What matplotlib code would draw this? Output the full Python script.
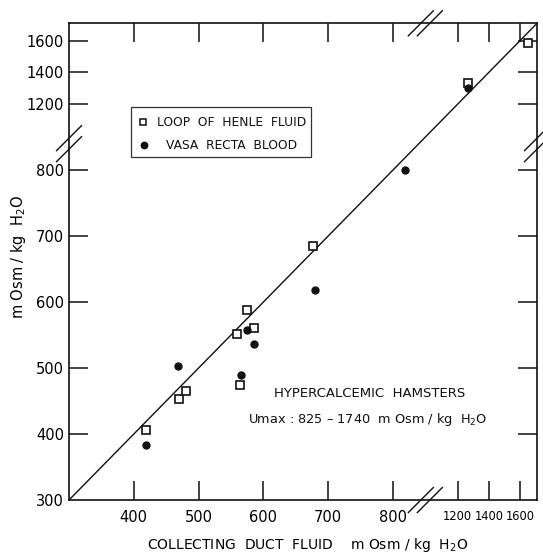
# Collecting duct vs loop of Henle / vasa recta osmolality, hypercalcemic hamsters.
# Both axes are broken (300-850 linear, then a compressed 1200-1700 section).
import numpy as np
import matplotlib
matplotlib.use("Agg")
import matplotlib.pyplot as plt
from matplotlib.patches import Rectangle

# values, mOsm / kg H2O
henle_cd = [419, 469, 481, 559, 564, 574, 585, 677, 1266, 1650]
henle_y = [406, 453, 465, 551, 474, 588, 560, 685, 1335, 1585]
vasa_cd = [419, 468, 565, 574, 585, 679, 818, 1266]
vasa_y = [384, 503, 489, 557, 537, 618, 800, 1300]

x_ticks = [400, 500, 600, 700, 800, 1200, 1400, 1600]
y_ticks = [300, 400, 500, 600, 700, 800, 1200, 1400, 1600]
identity = [300, 850, 1200, 1710]   # line of identity, kinks at the break
LO, HI = 300, 1710

# piecewise axis: linear to 850, squeeze 850-1200, then quarter scale above 1200
K1, K2, V2, S = 850.0, 1200.0, 900.0, 0.24


def fwd(v):
    v = np.asarray(v, float)
    return np.where(v <= K1, v,
                    np.where(v <= K2, K1 + (v - K1) * (V2 - K1) / (K2 - K1),
                             V2 + (v - K2) * S))


def inv(u):
    u = np.asarray(u, float)
    return np.where(u <= K1, u,
                    np.where(u <= V2, K1 + (u - K1) * (K2 - K1) / (V2 - K1),
                             K2 + (u - V2) / S))


INK = "#111111"
plt.rcParams["font.family"] = ["DejaVu Sans"]

fig = plt.figure(figsize=(5.43, 5.57), dpi=100)
ax = fig.add_axes([0.1271, 0.1023, 0.8619, 0.8559])
ax.set_xscale("function", functions=(fwd, inv))
ax.set_yscale("function", functions=(fwd, inv))
ax.set_xlim(LO, HI)
ax.set_ylim(LO, HI)

ax.plot(identity, identity, color=INK, lw=1.0)
ax.plot(henle_cd, henle_y, ls="none", marker="s", ms=5.2, mfc="white",
        mec=INK, mew=1.2)
ax.plot(vasa_cd, vasa_y, ls="none", marker="o", ms=5.0, color=INK)

for sp in ax.spines.values():
    sp.set_linewidth(1.2)
    sp.set_color(INK)

ax.set_xticks(x_ticks)
ax.set_xticklabels([str(t) for t in x_ticks])
ax.set_yticks(y_ticks)
ax.set_yticklabels([str(t) for t in y_ticks])
ax.minorticks_off()
ax.tick_params(axis="both", direction="in", length=13.5, width=1.1,
               color=INK, labelsize=10.5, top=True, right=True)
ax.tick_params(axis="x", pad=7)
ax.tick_params(axis="y", pad=3.5)
for lab, t in zip(ax.get_xticklabels(), x_ticks):
    if t >= 1200:
        lab.set_fontsize(8.3)
ax.yaxis.get_major_ticks()[0].tick1line.set_visible(False)
ax.yaxis.get_major_ticks()[0].tick2line.set_visible(False)

ax.set_xlabel("COLLECTING  DUCT  FLUID    m Osm / kg  H$_2$O", fontsize=10)
ax.xaxis.label.set_va("center")
ax.xaxis.set_label_coords(0.51, -0.094)
ax.set_ylabel("m Osm / kg  H$_2$O", fontsize=10.5)
ax.yaxis.label.set_va("center")
ax.yaxis.set_label_coords(-0.109, 0.51)

# break marks "//" on all four spines
W = fig.get_figwidth() * fig.dpi * 0.8619
H = fig.get_figheight() * fig.dpi * 0.8559
xb = (fwd(850) - fwd(LO)) / (fwd(HI) - fwd(LO))
yb = (fwd(840) - fwd(LO)) / (fwd(HI) - fwd(LO))
a = 12.5   # half length in px
for cx, cy, ox, oy in [(xb, 1.0, 4.5, 0), (xb, 0.0, 4.5, 0),
                       (0.0, yb, 0, 5.5), (1.0, yb, 0, 5.5)]:
    for s in (-1, 1):
        x0 = cx + (s * ox - a) / W
        x1 = cx + (s * ox + a) / W
        y0 = cy + (s * oy - a) / H
        y1 = cy + (s * oy + a) / H
        ax.plot([x0, x1], [y0, y1], transform=ax.transAxes, color=INK,
                lw=1.0, clip_on=False)

# key box
ax.add_patch(Rectangle((0.1325, 0.719), 0.385, 0.105, transform=ax.transAxes,
                       fill=False, ec="#333333", lw=0.9))
ax.plot([0.158], [0.7925], transform=ax.transAxes, ls="none", marker="s",
        ms=4.2, mfc="white", mec=INK, mew=1.1)
ax.plot([0.16], [0.744], transform=ax.transAxes, ls="none", marker="o",
        ms=4.6, color=INK)
ax.text(0.348, 0.7925, "LOOP  OF  HENLE  FLUID", transform=ax.transAxes,
        ha="center", va="center", fontsize=8.8, color=INK)
ax.text(0.348, 0.744, "VASA  RECTA  BLOOD", transform=ax.transAxes,
        ha="center", va="center", fontsize=8.8, color=INK)

ax.text(0.642, 0.2243, "HYPERCALCEMIC  HAMSTERS", transform=ax.transAxes,
        ha="center", va="center", fontsize=9.5, color=INK)
ax.text(0.639, 0.168, "Umax : 825 \u2013 1740  m Osm / kg  H$_2$O",
        transform=ax.transAxes, ha="center", va="center", fontsize=9.3,
        color=INK)

fig.savefig("out.png", dpi=100)
